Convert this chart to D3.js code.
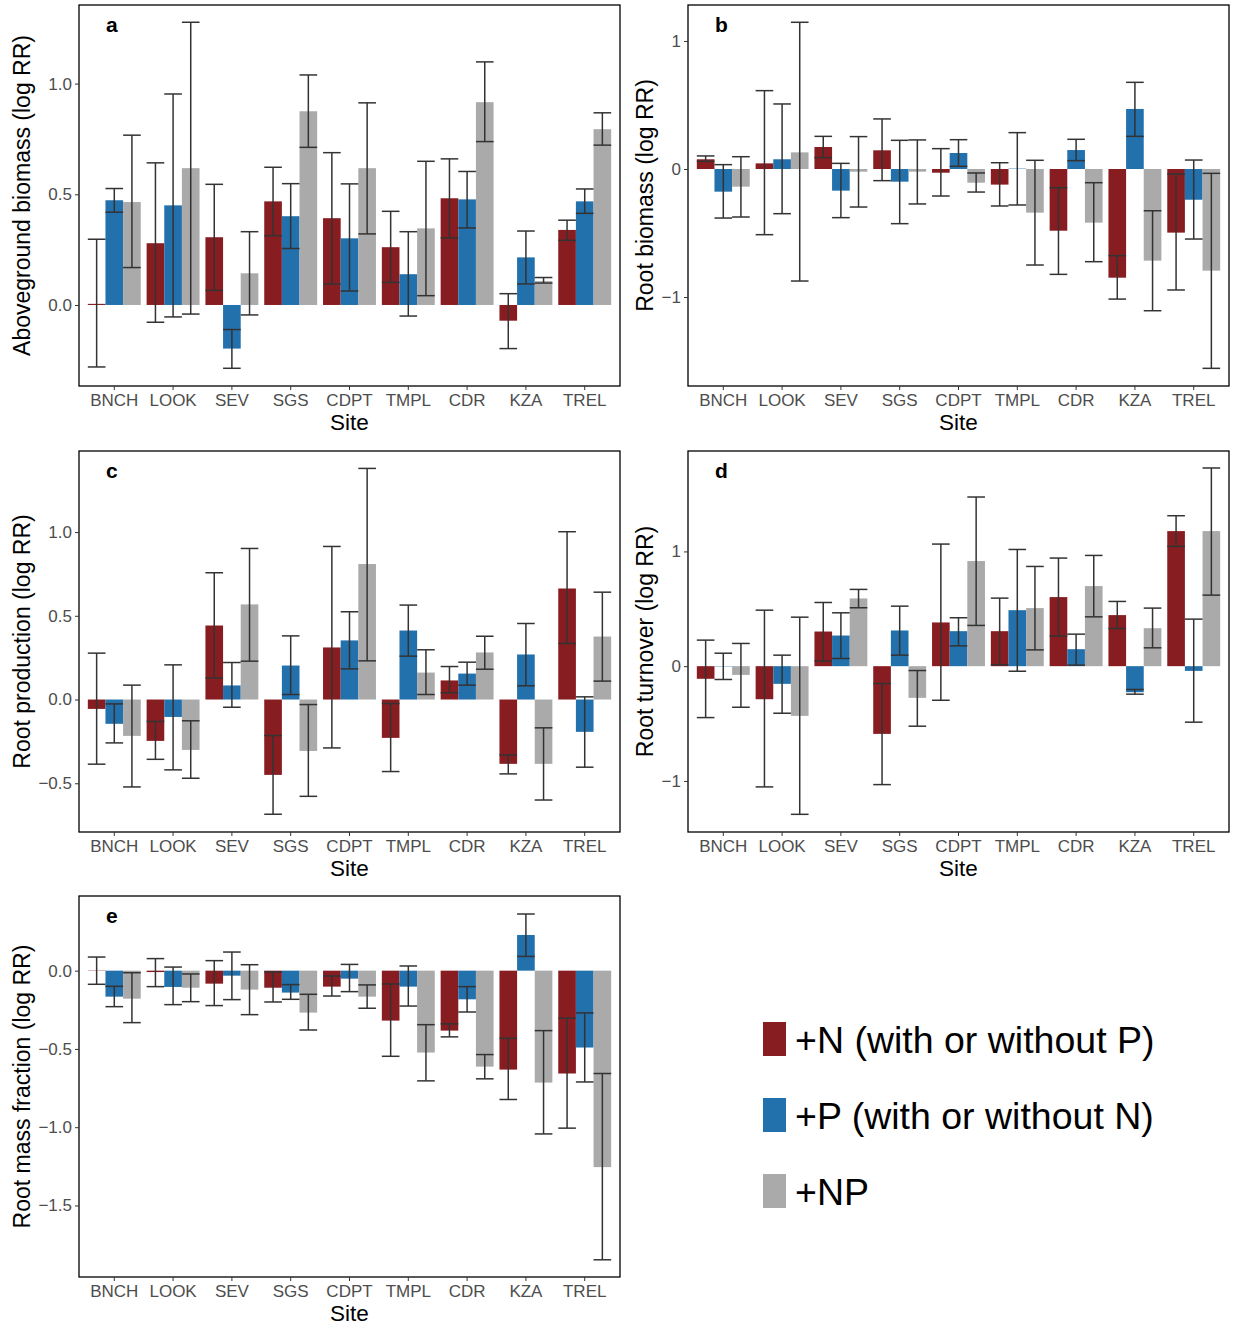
<!DOCTYPE html>
<html>
<head>
<meta charset="utf-8">
<script src="https://cdn.jsdelivr.net/npm/d3@7"></script>
<style>
  html, body { margin: 0; padding: 0; background: #fff; }
  svg { display: block; font-family: "Liberation Sans", Arial, Helvetica, sans-serif; }
</style>
</head>
<body>
<svg id="chart" width="1233" height="1330"></svg>
<script>
// ---------- data ----------
const sites = ["BNCH", "LOOK", "SEV", "SGS", "CDPT", "TMPL", "CDR", "KZA", "TREL"];
const treatments = ["+N (with or without P)", "+P (with or without N)", "+NP"];
const treatmentColors = ["#881D21", "#2270AC", "#AAAAAA"];

// each entry: [mean, lower, upper] per site, log response ratio
// a: Aboveground biomass
const agbN  = [[0.005,-0.280,0.297],[0.279,-0.078,0.642],[0.306,0.066,0.545],[0.468,0.313,0.622],[0.392,0.095,0.688],[0.261,0.102,0.423],[0.482,0.303,0.660],[-0.071,-0.197,0.051],[0.339,0.292,0.383]];
const agbP  = [[0.473,0.419,0.526],[0.450,-0.054,0.953],[-0.197,-0.286,-0.111],[0.401,0.255,0.548],[0.301,0.063,0.547],[0.139,-0.050,0.331],[0.477,0.348,0.603],[0.215,0.095,0.334],[0.468,0.414,0.524]];
const agbNP = [[0.465,0.169,0.767],[0.618,-0.041,1.277],[0.143,-0.045,0.331],[0.875,0.712,1.039],[0.618,0.321,0.913],[0.346,0.042,0.649],[0.916,0.738,1.098],[0.108,0.099,0.124],[0.794,0.722,0.868]];
// b: Root biomass
const rbN  = [[0.076,0.060,0.102],[0.044,-0.513,0.612],[0.172,0.089,0.255],[0.146,-0.091,0.391],[-0.029,-0.211,0.159],[-0.122,-0.289,0.049],[-0.482,-0.823,-0.146],[-0.849,-1.016,-0.677],[-0.497,-0.945,-0.039]];
const rbP  = [[-0.177,-0.383,0.034],[0.076,-0.349,0.508],[-0.169,-0.380,0.044],[-0.099,-0.427,0.224],[0.125,0.021,0.229],[0.003,-0.281,0.284],[0.148,0.065,0.232],[0.469,0.255,0.677],[-0.240,-0.547,0.070]];
const rbNP = [[-0.138,-0.375,0.096],[0.130,-0.875,1.146],[-0.021,-0.297,0.253],[-0.021,-0.273,0.227],[-0.107,-0.180,-0.031],[-0.341,-0.750,0.068],[-0.419,-0.724,-0.107],[-0.716,-1.107,-0.326],[-0.794,-1.557,-0.034]];
// c: Root production
const rpN  = [[-0.056,-0.386,0.277],[-0.247,-0.357,-0.131],[0.442,0.129,0.757],[-0.450,-0.685,-0.215],[0.311,-0.289,0.914],[-0.229,-0.430,-0.024],[0.114,0.040,0.197],[-0.384,-0.444,-0.331],[0.663,0.335,1.002]];
const rpP  = [[-0.145,-0.259,-0.026],[-0.104,-0.420,0.207],[0.084,-0.046,0.221],[0.203,0.030,0.380],[0.353,0.183,0.524],[0.412,0.259,0.564],[0.155,0.086,0.223],[0.269,0.082,0.454],[-0.193,-0.404,0.016]];
const rpNP = [[-0.217,-0.522,0.086],[-0.301,-0.470,-0.127],[0.568,0.229,0.902],[-0.307,-0.578,-0.030],[0.809,0.231,1.380],[0.161,0.030,0.297],[0.281,0.181,0.378],[-0.384,-0.600,-0.169],[0.376,0.110,0.641]];
// d: Root turnover
const rtN  = [[-0.110,-0.448,0.227],[-0.288,-1.052,0.488],[0.302,0.044,0.555],[-0.590,-1.032,-0.151],[0.381,-0.297,1.064],[0.305,0.012,0.593],[0.602,0.262,0.942],[0.445,0.328,0.564],[1.177,1.044,1.311]];
const rtP  = [[-0.003,-0.116,0.113],[-0.154,-0.410,0.096],[0.267,0.067,0.465],[0.311,0.096,0.523],[0.305,0.177,0.422],[0.488,-0.044,1.017],[0.148,0.009,0.279],[-0.227,-0.244,-0.203],[-0.041,-0.488,0.410]];
const rtNP = [[-0.076,-0.358,0.198],[-0.433,-1.291,0.427],[0.590,0.509,0.669],[-0.276,-0.523,-0.038],[0.916,0.355,1.474],[0.506,0.142,0.869],[0.698,0.430,0.965],[0.331,0.160,0.506],[1.177,0.619,1.727]];
// e: Root mass fraction
const rmfN  = [[0.002,-0.087,0.087],[-0.009,-0.102,0.077],[-0.083,-0.223,0.064],[-0.109,-0.200,-0.009],[-0.102,-0.162,-0.034],[-0.319,-0.547,-0.085],[-0.383,-0.423,-0.340],[-0.632,-0.823,-0.432],[-0.657,-1.006,-0.304]];
const rmfP  = [[-0.166,-0.230,-0.100],[-0.104,-0.217,0.023],[-0.032,-0.185,0.119],[-0.140,-0.183,-0.089],[-0.051,-0.134,0.040],[-0.102,-0.226,0.030],[-0.183,-0.264,-0.102],[0.228,0.091,0.362],[-0.491,-0.711,-0.270]];
const rmfNP = [[-0.179,-0.332,-0.013],[-0.109,-0.198,-0.021],[-0.121,-0.281,0.038],[-0.268,-0.379,-0.151],[-0.166,-0.240,-0.091],[-0.523,-0.704,-0.345],[-0.613,-0.691,-0.536],[-0.715,-1.043,-0.383],[-1.255,-1.847,-0.657]];

// tick labels per panel
const ticksA = [0, 0.5, 1.0];
const ticksB = [-1, 0, 1];
const ticksC = [-0.5, 0, 0.5, 1.0];
const ticksD = [-1, 0, 1];
const ticksE = [-1.5, -1.0, -0.5, 0];

const panelTitles = ["Aboveground biomass (log RR)", "Root biomass (log RR)", "Root production (log RR)", "Root turnover (log RR)", "Root mass fraction (log RR)"];
const panelLetters = ["a", "b", "c", "d", "e"];
const xTitle = "Site";

// ---------- layout ----------
const panels = [
  { letter: panelLetters[0], title: panelTitles[0], series: [agbN, agbP, agbNP], ticks: ticksA, fmt: ".1f", domain: [-0.366, 1.355], x: 79,  y: 5,   titleOff: 57 },
  { letter: panelLetters[1], title: panelTitles[1], series: [rbN, rbP, rbNP],    ticks: ticksB, fmt: "d",   domain: [-1.695, 1.281], x: 688, y: 5,   titleOff: 43 },
  { letter: panelLetters[2], title: panelTitles[2], series: [rpN, rpP, rpNP],    ticks: ticksC, fmt: ".1f", domain: [-0.791, 1.484], x: 79,  y: 451, titleOff: 57 },
  { letter: panelLetters[3], title: panelTitles[3], series: [rtN, rtP, rtNP],    ticks: ticksD, fmt: "d",   domain: [-1.445, 1.875], x: 688, y: 451, titleOff: 43 },
  { letter: panelLetters[4], title: panelTitles[4], series: [rmfN, rmfP, rmfNP], ticks: ticksE, fmt: ".1f", domain: [-1.957, 0.477], x: 79,  y: 896, titleOff: 57 }
];
const PW = 541, PH = 381;
const axisTextColor = "#4D4D4D";
const errColor = "#333333";

const svg = d3.select("#chart");
const minus = s => s.replace("-", "\u2212");

panels.forEach(p => {
  const g = svg.append("g").attr("transform", `translate(${p.x},${p.y})`);
  const x = d3.scaleBand().domain(sites).range([0, PW]).paddingInner(0.1).paddingOuter(0.15);
  const xi = d3.scaleBand().domain(d3.range(treatments.length)).range([0, x.bandwidth()]).padding(0);
  const y = d3.scaleLinear().domain(p.domain).range([PH, 0]);

  // bars
  p.series.forEach((ser, k) => {
    g.append("g").selectAll("rect").data(ser).join("rect")
      .attr("x", (d, i) => x(sites[i]) + xi(k))
      .attr("width", xi.bandwidth())
      .attr("y", d => y(Math.max(0, d[0])))
      .attr("height", d => Math.abs(y(d[0]) - y(0)))
      .attr("fill", treatmentColors[k]);
  });
  // error bars
  p.series.forEach((ser, k) => {
    const eg = g.append("g").attr("stroke", errColor).attr("stroke-width", 1.5).attr("fill", "none");
    ser.forEach((d, i) => {
      const x0 = x(sites[i]) + xi(k), x1 = x0 + xi.bandwidth(), xc = (x0 + x1) / 2;
      eg.append("line").attr("x1", xc).attr("x2", xc).attr("y1", y(d[1])).attr("y2", y(d[2]));
      eg.append("line").attr("x1", x0).attr("x2", x1).attr("y1", y(d[1])).attr("y2", y(d[1]));
      eg.append("line").attr("x1", x0).attr("x2", x1).attr("y1", y(d[2])).attr("y2", y(d[2]));
    });
  });

  // panel border
  g.append("rect").attr("x", 0).attr("y", 0).attr("width", PW).attr("height", PH)
    .attr("fill", "none").attr("stroke", "#000").attr("stroke-width", 1.3);

  // y axis
  const fmt = d3.format(p.fmt);
  const ya = g.append("g").call(d3.axisLeft(y).tickValues(p.ticks).tickSize(4).tickPadding(3).tickFormat(v => minus(fmt(v))));
  ya.select(".domain").remove();
  ya.selectAll(".tick line").attr("stroke", "#333").attr("stroke-width", 1);
  ya.selectAll(".tick text").attr("fill", axisTextColor).style("font-size", "17px")
    .style("font-family", '"Liberation Sans", Arial, sans-serif');

  // x axis
  const xa = g.append("g").attr("transform", `translate(0,${PH})`)
    .call(d3.axisBottom(x).tickSize(4).tickPadding(4));
  xa.select(".domain").remove();
  xa.selectAll(".tick line").attr("stroke", "#333").attr("stroke-width", 1);
  xa.selectAll(".tick text").attr("fill", axisTextColor).style("font-size", "17px")
    .style("font-family", '"Liberation Sans", Arial, sans-serif');

  // axis titles
  g.append("text").attr("x", PW / 2).attr("y", PH + 44).attr("text-anchor", "middle")
    .style("font-size", "22.5px").attr("fill", "#000").text(xTitle);
  g.append("text").attr("transform", `translate(${-p.titleOff},${PH / 2}) rotate(-90)`)
    .attr("text-anchor", "middle").attr("dominant-baseline", "central")
    .style("font-size", "23px").attr("fill", "#000").text(p.title);

  // panel letter
  g.append("text").attr("x", 27).attr("y", 27).style("font-size", "21px").style("font-weight", "bold")
    .attr("fill", "#000").text(p.letter);
});

// legend
const legend = svg.append("g").attr("transform", "translate(763,1022)");
treatments.forEach((t, k) => {
  legend.append("rect").attr("x", 0).attr("y", k * 76).attr("width", 23).attr("height", 34).attr("fill", treatmentColors[k]);
  legend.append("text").attr("x", 32).attr("y", k * 76 + 31).style("font-size", "37.5px").attr("fill", "#000").text(t);
});
</script>
</body>
</html>
